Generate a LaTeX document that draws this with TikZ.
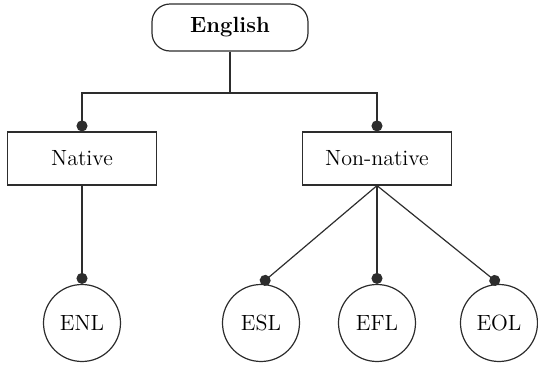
\documentclass[tikz,border=0pt]{standalone}
\usepackage{tikz}
\usetikzlibrary{arrows.meta}
\definecolor{inkgray}{RGB}{45,45,45}
\tikzset{
  rootbox/.style={draw=inkgray,line width=0.6pt,rounded corners=9pt,
    minimum width=78pt,minimum height=23.5pt,inner sep=0pt,font=\fontsize{11}{13}\selectfont\bfseries},
  kindbox/.style={draw=inkgray,line width=0.6pt,
    minimum width=74.5pt,minimum height=26.5pt,inner sep=0pt,font=\fontsize{11}{13}\selectfont},
  varcircle/.style={draw=inkgray,line width=0.6pt,circle,
    minimum size=38.5pt,inner sep=0pt,font=\fontsize{11}{13}\selectfont},
  branch/.style={inkgray,line width=0.6pt,-{Circle[length=5.5pt]}}
}

\begin{document}
\begin{tikzpicture}[x=0.5pt,y=-0.5pt]
    \useasboundingbox (0,0) rectangle (538,365);
    \node[rootbox] (english) at (230,27.5) {English};
    \node[kindbox] (native) at (82,158.5) {Native};
    \node[kindbox] (nonnative) at (377,158.5) {Non-native};
    \node[varcircle] (enl) at (82,323) {ENL};
    \node[varcircle] (esl) at (261,323) {ESL};
    \node[varcircle] (efl) at (377,323) {EFL};
    \node[varcircle] (eol) at (499,323) {EOL};
    \coordinate (bar) at (230,93);
    \draw[branch]
	(english.south) -- (bar) -| (native.north);
    \draw[branch]
	(english.south) -- (bar) -| (nonnative.north);
    \draw[branch]
	(native.south) -- (enl.north);
    \draw[branch]
	(nonnative.south) -- (esl.north);
    \draw[branch]
	(nonnative.south) -- (efl.north);
    \draw[branch]
	(nonnative.south) -- (eol.north);
\end{tikzpicture}
\end{document}
